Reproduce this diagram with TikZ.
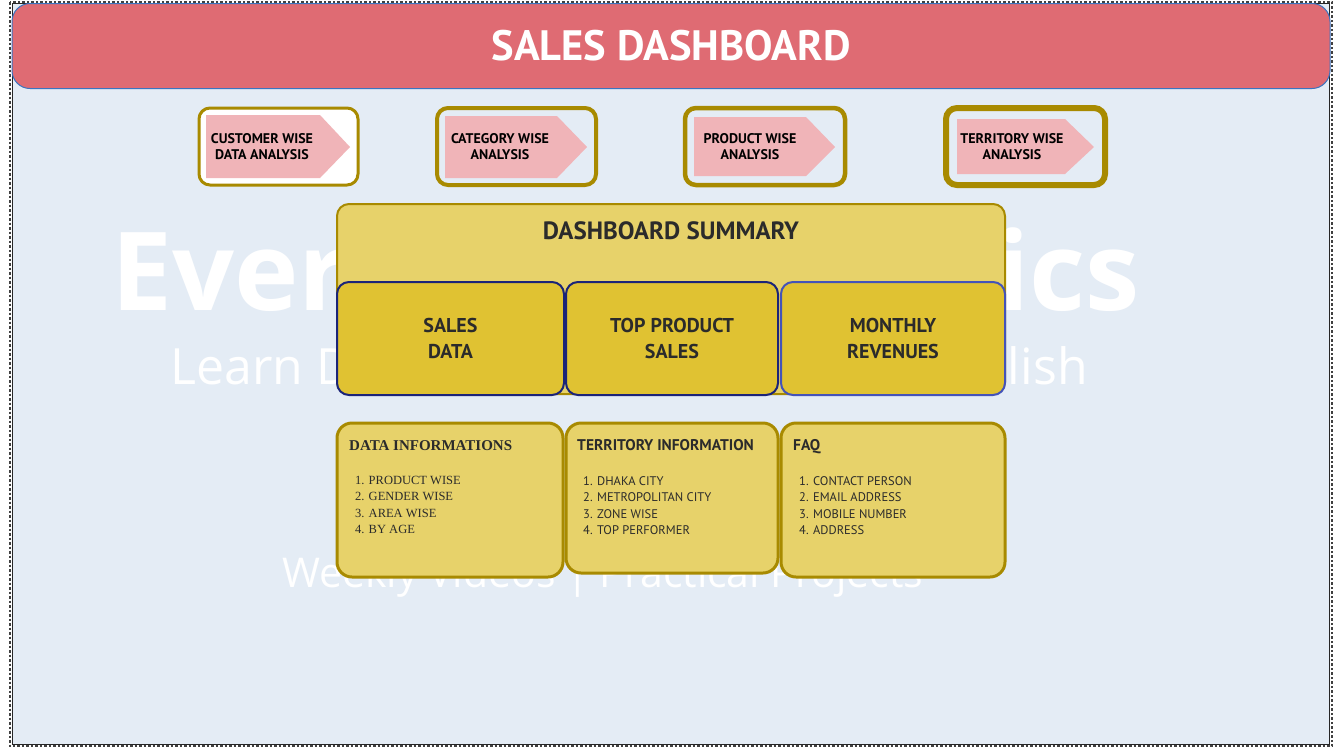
\documentclass[tikz,border=0pt]{standalone}
\usepackage{fontspec}
\setmainfont{PT Sans}
\newfontfamily\wmfont{Open Sans}
\newfontfamily\tnr{Liberation Serif}
\definecolor{bgc}{HTML}{E4ECF5}
\definecolor{bannerc}{HTML}{DF6B73}
\definecolor{bannerline}{HTML}{3A74C0}
\definecolor{olive}{HTML}{A88A00}
\definecolor{pinkc}{HTML}{F0B4B8}
\definecolor{ylight}{HTML}{E7D26A}
\definecolor{ydark}{HTML}{E0C232}
\definecolor{navy}{HTML}{1B2478}
\definecolor{blueb}{HTML}{4453B8}
\definecolor{txt}{HTML}{2B2B2B}
\tikzset{
  banner/.style={draw=bannerline, line width=1pt, fill=bannerc, rounded corners=18pt, inner sep=0pt},
  btnbox/.style={draw=olive, rounded corners=11pt, inner sep=0pt},
  arrowfill/.style={fill=pinkc},
  btntext/.style={font=\bfseries\fontsize{14}{16}\selectfont, text=black, align=center, inner sep=0pt},
  summary/.style={draw=olive, line width=2pt, fill=ylight, rounded corners=12pt, inner sep=0pt},
  subbox/.style={line width=2pt, fill=ydark, rounded corners=12pt, inner sep=0pt, font=\bfseries\fontsize{20}{26}\selectfont, text=txt, align=center},
  infobox/.style={draw=olive, line width=3pt, fill=ylight, rounded corners=15pt, inner sep=0pt},
  heading/.style={anchor=base west, inner sep=0pt, text=txt},
  items/.style={anchor=north west, inner sep=0pt, text=txt, align=left},
  wm/.style={text=white, inner sep=0pt}
}
\begin{document}
\begin{tikzpicture}[x=1pt, y=-1pt]
\useasboundingbox (0,0) rectangle (1342,748);
\fill[white] (0,0) rectangle (1342,748);
% frame
\draw[line width=2.5pt, dash pattern=on 2.5pt off 2pt, black!75] (10,2) rectangle (1332,746);
\fill[bgc] (12,3) rectangle (1329,744);
\draw[line width=1pt, black!85] (12,3) rectangle (1329,744);

% watermark
\node[wm, anchor=base west, font=\wmfont\bfseries\fontsize{109}{109}\selectfont] (wm1) at (111,310) {Ever};
\node[wm, anchor=base east, font=\wmfont\bfseries\fontsize{109}{109}\selectfont] (wm2) at (1140,310) {ics};
\node[wm, anchor=base west, font=\wmfont\fontsize{50}{50}\selectfont] (wm3) at (170,384) {Learn D};
\node[wm, anchor=base east, font=\wmfont\fontsize{50}{50}\selectfont] (wm4) at (1088,384) {lish};
\node[wm, anchor=base west, font=\wmfont\fontsize{41}{41}\selectfont] (wm5) at (282,587) {Weekly Videos | Practical Projects};

% banner
\node[banner, minimum width=1318pt, minimum height=85pt, font=\bfseries\fontsize{42.5}{42.5}\selectfont, text=white] (title) at (671,46) {SALES DASHBOARD};

% buttons
\node[btnbox, line width=3pt, fill=white, minimum width=159pt, minimum height=77pt] (b1) at (278.5,146.5) {};
\fill[arrowfill] (206,115) -- (320,115) -- (350,147) -- (320,178) -- (206,178) -- cycle;
\node[btntext] (t1) at (262,147) {CUSTOMER WISE\\DATA ANALYSIS};

\node[btnbox, line width=4pt, minimum width=159pt, minimum height=77pt] (b2) at (516.5,146.5) {};
\fill[arrowfill] (445,116) -- (557,116) -- (587,147) -- (557,178) -- (445,178) -- cycle;
\node[btntext] (t2) at (500,147) {CATEGORY WISE\\ANALYSIS};

\node[btnbox, line width=4.5pt, minimum width=160pt, minimum height=77pt] (b3) at (765,146.5) {};
\fill[arrowfill] (694,117) -- (806,117) -- (835,147) -- (806,176) -- (694,176) -- cycle;
\node[btntext] (t3) at (750,147) {PRODUCT WISE\\ANALYSIS};

\node[btnbox, line width=6pt, minimum width=159pt, minimum height=77pt] (b4) at (1025.5,146.5) {};
\fill[arrowfill] (957,119) -- (1065,119) -- (1094,147) -- (1065,174) -- (957,174) -- cycle;
\node[btntext] (t4) at (1012,147) {TERRITORY WISE\\ANALYSIS};

% dashboard summary
\node[summary, minimum width=668pt, minimum height=190pt] (sum) at (671,299) {};
\node[inner sep=0pt, text=txt, font=\bfseries\fontsize{25}{25}\selectfont] (sumt) at (671,231) {DASHBOARD SUMMARY};
\node[subbox, draw=navy, minimum width=227pt, minimum height=113pt] (s1) at (450.5,338.5) {SALES\\DATA};
\node[subbox, draw=navy, minimum width=212pt, minimum height=113pt] (s2) at (672,338.5) {TOP PRODUCT\\SALES};
\node[subbox, draw=blueb, minimum width=224pt, minimum height=113pt] (s3) at (893,338.5) {MONTHLY\\REVENUES};

% info boxes
\node[infobox, minimum width=226pt, minimum height=154pt] (i1) at (450,500) {};
\node[infobox, minimum width=212pt, minimum height=150pt] (i2) at (672,498) {};
\node[infobox, minimum width=224pt, minimum height=154pt] (i3) at (893,500) {};

\node[heading, font=\tnr\bfseries\fontsize{15}{15}\selectfont] (h1) at (349,450) {DATA INFORMATIONS};
\node[items, font=\tnr\fontsize{12.5}{16.5}\selectfont] (l1) at (355,476) {1. PRODUCT WISE\\2. GENDER WISE\\3. AREA WISE\\4. BY AGE};

\node[heading, font=\bfseries\fontsize{15.5}{15.5}\selectfont] (h2) at (577,450) {TERRITORY INFORMATION};
\node[items, font=\fontsize{12.5}{16.5}\selectfont] (l2) at (583,476) {1. DHAKA CITY\\2. METROPOLITAN CITY\\3. ZONE WISE\\4. TOP PERFORMER};

\node[heading, font=\bfseries\fontsize{15.5}{15.5}\selectfont] (h3) at (793,450) {FAQ};
\node[items, font=\fontsize{12.5}{16.5}\selectfont] (l3) at (799,476) {1. CONTACT PERSON\\2. EMAIL ADDRESS\\3. MOBILE NUMBER\\4. ADDRESS};
\end{tikzpicture}
\end{document}
